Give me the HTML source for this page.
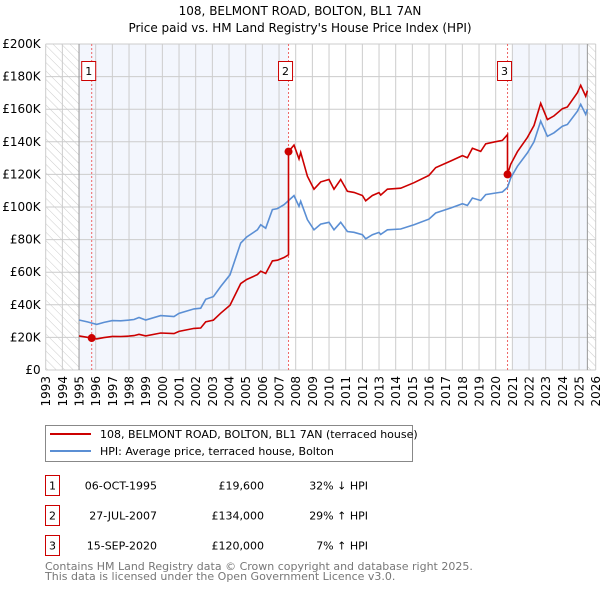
<!DOCTYPE html>
<html><head><meta charset="utf-8"><style>
body{margin:0;background:#fff;width:600px;height:590px;overflow:hidden;font-family:"DejaVu Sans","Liberation Sans",sans-serif;}
svg text{font-family:"DejaVu Sans","Liberation Sans",sans-serif;}
</style></head><body>
<svg id="c" width="600" height="590" xmlns="http://www.w3.org/2000/svg">
<defs><pattern id="hatch" width="6" height="6" patternUnits="userSpaceOnUse" patternTransform="rotate(-45)"><line x1="0" y1="0" x2="0" y2="6" stroke="#ccc" stroke-width="1"/></pattern></defs>
<text x="300" y="15" text-anchor="middle" font-size="12">108, BELMONT ROAD, BOLTON, BL1 7AN</text>
<text x="300" y="32" text-anchor="middle" font-size="12">Price paid vs. HM Land Registry's House Price Index (HPI)</text>
<g id="plot"></g>
<g>
<rect x="45.5" y="425.5" width="367" height="36" fill="#fff" stroke="#888"/>
<line x1="50" y1="434" x2="91" y2="434" stroke="#cc0000" stroke-width="2"/>
<text x="100" y="438" font-size="11">108, BELMONT ROAD, BOLTON, BL1 7AN (terraced house)</text>
<line x1="50" y1="451" x2="91" y2="451" stroke="#5b8fd4" stroke-width="2"/>
<text x="100" y="455" font-size="11">HPI: Average price, terraced house, Bolton</text>
</g>
<g id="table" font-size="11"></g>
<text x="45" y="570" font-size="11" fill="#777">Contains HM Land Registry data © Crown copyright and database right 2025.</text>
<text x="45" y="580" font-size="11" fill="#777">This data is licensed under the Open Government Licence v3.0.</text>
</svg>
<script>
const hpiYears=[1995.0,1995.5,1996.06,1996.5,1997.0,1997.5,1998.0,1998.3,1998.6,1999.0,1999.9,2000.7,2001.0,2001.9,2002.3,2002.6,2003.06,2003.5,2004.06,2004.7,2005.06,2005.7,2005.9,2006.2,2006.6,2006.9,2007.3,2007.57,2007.9,2008.2,2008.3,2008.7,2009.1,2009.5,2010.0,2010.3,2010.7,2011.1,2011.5,2012.0,2012.2,2012.6,2013.0,2013.1,2013.5,2014.3,2015.1,2016.0,2016.4,2017.3,2018.0,2018.3,2018.6,2019.1,2019.4,2020.0,2020.4,2020.71,2020.9,2021.3,2021.9,2022.3,2022.7,2023.1,2023.5,2024.0,2024.3,2024.9,2025.1,2025.4,2025.5];
const hpiValues=[30.7,29.5,28,29.2,30.3,30.2,30.6,31,32.2,30.7,33.4,32.8,34.8,37.5,37.9,43.4,45,51.2,58.4,77.9,81.6,86,89.1,87,98.4,99,101.4,103.9,107,100.4,103.5,92.2,86,89.5,90.6,86,90.6,85,84.5,83,80.5,83,84.4,83.2,86,86.5,89.1,92.6,96.3,99.4,102,101,105.5,104,107.6,108.6,109.2,112,117.8,125,133.2,140,152.7,143.4,145.5,149.6,150.6,158.8,163,156.8,160];
const saleYears=[1995.76,2007.57,2020.71];
const salePrices=[19.6,134,120];
const saleDates=["06-OCT-1995","27-JUL-2007","15-SEP-2020"];
const salePriceLabels=["£19,600","£134,000","£120,000"];
const saleHpiLabels=["32% ↓ HPI","29% ↑ HPI","7% ↑ HPI"];
const yTicks=[0,20,40,60,80,100,120,140,160,180,200];
const yTickLabels=["£0","£20K","£40K","£60K","£80K","£100K","£120K","£140K","£160K","£180K","£200K"];
const xTicks=[1993,1994,1995,1996,1997,1998,1999,2000,2001,2002,2003,2004,2005,2006,2007,2008,2009,2010,2011,2012,2013,2014,2015,2016,2017,2018,2019,2020,2021,2022,2023,2024,2025,2026];

const NS="http://www.w3.org/2000/svg";
const X0=45.7,X1=595.7,Y0=370,Y1=44;
const xs=y=>X0+(y-1993)/33*(X1-X0);
const ys=v=>Y0-v/200*(Y0-Y1);
const plot=document.getElementById('plot');
function mk(tag,attrs,parent){const e=document.createElementNS(NS,tag);for(const k in attrs)e.setAttribute(k,attrs[k]);(parent||plot).appendChild(e);return e;}
function hpiAt(t){for(let i=1;i<hpiYears.length;i++){if(t<=hpiYears[i]){const f=(t-hpiYears[i-1])/(hpiYears[i]-hpiYears[i-1]);return hpiValues[i-1]+f*(hpiValues[i]-hpiValues[i-1]);}}return hpiValues[hpiValues.length-1];}

// background
let e=mk('rect',{x:X0,y:Y1,width:X1-X0,height:Y0-Y1,fill:'#fff'});


e=mk('rect',{x:X0,y:Y1,width:xs(1995)-X0,height:Y0-Y1,fill:'url(#hatch)'});


const lastYear=hpiYears[hpiYears.length-1];
e=mk('rect',{x:xs(lastYear),y:Y1,width:X1-xs(lastYear),height:Y0-Y1,fill:'url(#hatch)'});


e=mk('rect',{x:xs(1995),y:Y1,width:xs(saleYears[1])-xs(1995),height:Y0-Y1,fill:'#f3f6fd'});


e=mk('rect',{x:xs(saleYears[2])+5,y:Y1,width:xs(lastYear)-xs(saleYears[2])-5,height:Y0-Y1,fill:'#f3f6fd'});


// grid
yTicks.forEach((v,i)=>{
 let g=mk('line',{x1:X0,x2:X1,y1:ys(v),y2:ys(v),stroke:'#ccc','stroke-width':1});
 
 
 let t=mk('text',{x:X0-5,y:ys(v)+4,'text-anchor':'end','font-size':12});
 t.textContent=yTickLabels[i];
 
 
});
xTicks.forEach(yr=>{
 let g=mk('line',{x1:xs(yr),x2:xs(yr),y1:Y1,y2:Y0,stroke:'#ccc','stroke-width':1});
 
 
 let t=mk('text',{x:0,y:0,'text-anchor':'end','font-size':12,transform:`translate(${xs(yr)+4.5},376) rotate(-90)`});
 t.textContent=yr;
 
 
});
e=mk('line',{x1:xs(1995),x2:xs(1995),y1:Y1,y2:Y0,stroke:'#999'});


e=mk('line',{x1:xs(lastYear),x2:xs(lastYear),y1:Y1,y2:Y0,stroke:'#999'});


// sale vertical lines & labels
saleYears.forEach((sy,i)=>{
 let l=mk('line',{x1:xs(sy),x2:xs(sy),y1:Y1,y2:Y0,stroke:'#e66','stroke-width':1,'stroke-dasharray':'2,2'});
 
 
 let b=mk('rect',{x:xs(sy)-10,y:61.5,width:14,height:19,fill:'#fff',stroke:'#cc0000'});
 
 
 let t=mk('text',{x:xs(sy)-3,y:75,'text-anchor':'middle','font-size':11});
 t.textContent=i+1;
 
 
});
// HPI line
let dH=hpiYears.map((y,i)=>(i?'L':'M')+xs(y).toFixed(1)+','+ys(hpiValues[i]).toFixed(1)).join('');
e=mk('path',{d:dH,fill:'none',stroke:'#5b8fd4','stroke-width':1.6});


// price line: HPI scaled from each sale
const ratios=saleYears.map((s,i)=>salePrices[i]/hpiAt(s));
let pts=[];
for(let i=0;i<hpiYears.length;i++){
 const y=hpiYears[i];
 let k=0;for(let j=0;j<saleYears.length;j++)if(y>=saleYears[j])k=j;
 if(y>=saleYears[1]&&pts.length&&pts[pts.length-1].k<1){pts.push({y:saleYears[1],v:hpiAt(saleYears[1])*ratios[0],k:0});pts.push({y:saleYears[1],v:salePrices[1],k:1});}
 if(y>=saleYears[2]&&pts[pts.length-1].k<2){pts.push({y:saleYears[2],v:hpiAt(saleYears[2])*ratios[1],k:1});pts.push({y:saleYears[2],v:salePrices[2],k:2});}
 pts.push({y:y,v:hpiValues[i]*ratios[k],k:k});
}
let dP=pts.map((p,i)=>(i?'L':'M')+xs(p.y).toFixed(1)+','+ys(p.v).toFixed(1)).join('');
e=mk('path',{d:dP,fill:'none',stroke:'#cc0000','stroke-width':1.6});


saleYears.forEach((sy,i)=>{
 let c=mk('circle',{cx:xs(sy),cy:ys(salePrices[i]),r:4,fill:'#cc0000'});
 
 
});
// table
const tb=document.getElementById('table');
saleYears.forEach((sy,i)=>{
 const by=475.5+i*30;
 let r=mk('rect',{x:45.5,y:by,width:14,height:20,fill:'#fff',stroke:'#cc0000'},tb);
 
 
 let t=mk('text',{x:52.5,y:by+14,'text-anchor':'middle'},tb);t.textContent=i+1;
 
 
 t=mk('text',{x:157,y:by+14,'text-anchor':'end'},tb);t.textContent=saleDates[i];
 
 
 t=mk('text',{x:264,y:by+14,'text-anchor':'end'},tb);t.textContent=salePriceLabels[i];
 
 
 t=mk('text',{x:368,y:by+14,'text-anchor':'end'},tb);t.textContent=saleHpiLabels[i];
 
 
});
</script>
</body></html>
